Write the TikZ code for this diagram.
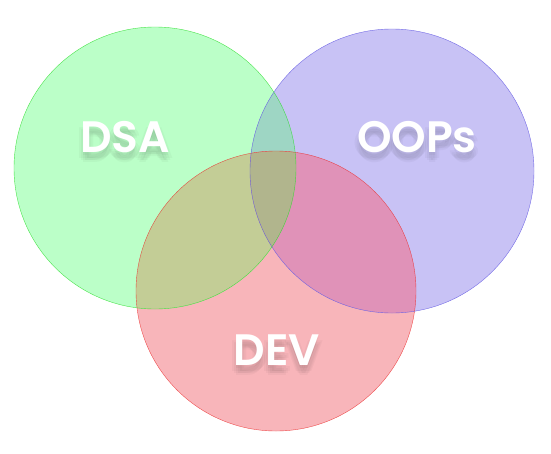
\documentclass[tikz,border=0pt]{standalone}
\usepackage{fontspec}
\setmainfont{Poppins}[BoldFont={Poppins SemiBold}]
\definecolor{dsafill}{RGB}{187,255,200}
\definecolor{oopsfill}{RGB}{200,194,245}
\definecolor{devfill}{RGB}{248,181,186}
\definecolor{dsaoops}{RGB}{158,214,196}
\definecolor{dsadev}{RGB}{195,205,150}
\definecolor{oopsdev}{RGB}{224,146,184}
\definecolor{allthree}{RGB}{177,181,141}
\definecolor{dsaline}{RGB}{40,220,40}
\definecolor{oopsline}{RGB}{90,80,225}
\definecolor{devline}{RGB}{235,45,45}
\tikzset{%
    venntext/.style={text=white,font=\fontsize{44}{44}\selectfont\bfseries},
    vennshadow/.style={text=black,text opacity=0.03,font=\fontsize{44}{44}\selectfont\bfseries}
}
\begin{document}
\begin{tikzpicture}[x=1pt,y=-1pt]
\useasboundingbox (0,0) rectangle (551,453);
\def\dsa{(155,168) circle (141)}
\def\oops{(392,171) circle (142)}
\def\dev{(276,291) circle (140)}
	\begin{scope}
	\fill[devfill]  \dev;
	\fill[dsafill]  \dsa;
	\fill[oopsfill] \oops;
	\end{scope}
	\begin{scope}
	\clip \dsa;
	\fill[dsaoops] \oops;
	\fill[dsadev] \dev;
	\end{scope}
	\begin{scope}
	\clip \oops;
	\fill[oopsdev] \dev;
	\clip \dsa;
	\fill[allthree] \dev;
	\end{scope}
\draw[devline,opacity=0.8]  \dev;
\draw[oopsline,opacity=0.8] \oops;
\draw[dsaline,opacity=0.8]  \dsa;
% soft shadows under the labels
\foreach \dx/\dy in {-4/6,4/6,0/3,0/10,-2/8,2/8}
  {
  \node[vennshadow] at (125+\dx,137+\dy) {DSA};
  \node[vennshadow] at (417+\dx,137+\dy) {OOPs};
  \node[vennshadow] at (277+\dx,350+\dy) {DEV};
  }
\node[venntext] (dsalabel)  at (125,137) {DSA};
\node[venntext] (oopslabel) at (417,137) {OOPs};
\node[venntext] (devlabel)  at (277,350) {DEV};
\end{tikzpicture}
\end{document}
